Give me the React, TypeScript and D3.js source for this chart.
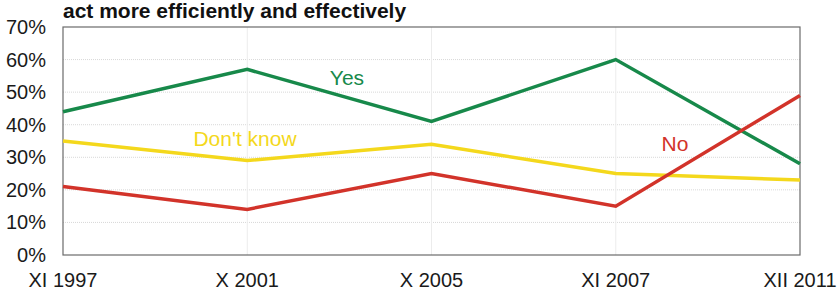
import React, { useEffect, useRef } from 'react'
import * as d3 from 'd3'

const periods = ['XI 1997', 'X 2001', 'X 2005', 'XI 2007', 'XII 2011']
const yesValues = [44, 57, 41, 60, 28]
const dontKnowValues = [35, 29, 34, 25, 23]
const noValues = [21, 14, 25, 15, 49]
const yTicks = [0, 10, 20, 30, 40, 50, 60, 70]

const App = () => {
  const ref = useRef<SVGSVGElement>(null)
  const width = 837
  const height = 293
  const margin = { top: 27, right: 37, bottom: 38, left: 63 }

  useEffect(() => {
    const svg = d3.select(ref.current)
    svg.selectAll('*').remove()

    const x = d3.scalePoint().domain(periods).range([margin.left, width - margin.right])
    const y = d3.scaleLinear().domain([0, 70]).range([height - margin.bottom, margin.top])

    const font = 'Liberation Sans, Arial, sans-serif'

    // grid
    svg.append('g')
      .selectAll('line')
      .data(yTicks.slice(1, -1))
      .join('line')
      .attr('x1', margin.left).attr('x2', width - margin.right)
      .attr('y1', d => y(d)).attr('y2', d => y(d))
      .attr('stroke', '#d8d8d8')
      .attr('stroke-dasharray', '1,1')

    svg.append('g')
      .selectAll('line')
      .data(periods.slice(1, -1))
      .join('line')
      .attr('x1', d => x(d)!).attr('x2', d => x(d)!)
      .attr('y1', margin.top).attr('y2', height - margin.bottom)
      .attr('stroke', '#ececec')

    // frame
    svg.append('rect')
      .attr('x', margin.left).attr('y', margin.top)
      .attr('width', width - margin.left - margin.right)
      .attr('height', height - margin.top - margin.bottom)
      .attr('fill', 'none')
      .attr('stroke', '#6b6b6b')
      .attr('stroke-width', 1.2)

    // y labels
    svg.append('g')
      .selectAll('text')
      .data(yTicks)
      .join('text')
      .attr('x', 46)
      .attr('y', d => y(d))
      .attr('dy', '0.35em')
      .attr('text-anchor', 'end')
      .attr('font-family', font)
      .attr('font-size', 20)
      .attr('fill', '#1a1a1a')
      .text(d => d + '%')

    // x labels
    svg.append('g')
      .selectAll('text')
      .data(periods)
      .join('text')
      .attr('x', d => x(d)!)
      .attr('y', 287)
      .attr('text-anchor', 'middle')
      .attr('font-family', font)
      .attr('font-size', 20)
      .attr('fill', '#1a1a1a')
      .text(d => d)

    const series = [
      { name: 'Yes', values: yesValues, color: '#17894a', lx: 347, ly: 85 },
      { name: "Don't know", values: dontKnowValues, color: '#f4d81c', lx: 245, ly: 146 },
      { name: 'No', values: noValues, color: '#d2332a', lx: 675, ly: 151 },
    ]

    const line = d3.line<number>()
      .x((_, i) => x(periods[i])!)
      .y(d => y(d))

    series.forEach(s => {
      svg.append('path')
        .datum(s.values)
        .attr('fill', 'none')
        .attr('stroke', s.color)
        .attr('stroke-width', 3.5)
        .attr('stroke-linejoin', 'miter')
        .attr('d', line)

      svg.append('text')
        .attr('x', s.lx)
        .attr('y', s.ly)
        .attr('text-anchor', 'middle')
        .attr('font-family', font)
        .attr('font-size', 21)
        .attr('fill', s.color)
        .text(s.name)
    })

    // title
    svg.append('text')
      .attr('x', 63)
      .attr('y', 18)
      .attr('font-family', font)
      .attr('font-size', 21)
      .attr('font-weight', 'bold')
      .attr('fill', '#111')
      .text('act more efficiently and effectively')
  }, [])

  return (
    <svg
      ref={ref}
      width={width}
      height={height}
      style={{ position: 'absolute', left: 0, top: 0, background: '#fff' }}
    />
  )
}

export default App
